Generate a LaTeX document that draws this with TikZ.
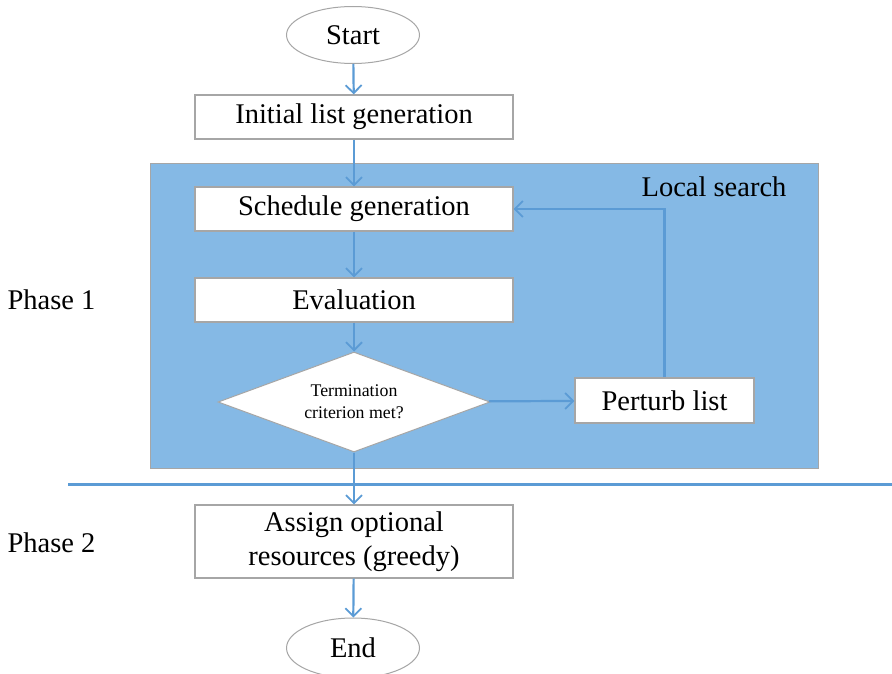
\documentclass[tikz,border=0pt]{standalone}
\usepackage{fontspec}
\setmainfont{Liberation Serif}
\usetikzlibrary{shapes.geometric,arrows.meta}
\definecolor{regionblue}{RGB}{133,185,229}
\definecolor{linkblue}{RGB}{91,155,213}
\definecolor{edgegray}{RGB}{166,166,166}
\tikzset{
  every node/.style={inner sep=0pt},
  box/.style={draw=edgegray, line width=1.2pt, fill=white, minimum width=318pt, minimum height=44pt, font=\fontsize{28.5}{34}\selectfont, align=center},
  term/.style={ellipse, draw=edgegray, line width=1pt, fill=white, minimum width=133pt, minimum height=57pt, font=\fontsize{28.5}{34}\selectfont},
  link/.style={draw=linkblue, line width=2.2pt, -{Straight Barb[length=8pt,width=16pt,line width=1.8pt]}},
  lbl/.style={font=\fontsize{28.5}{34}\selectfont},
}
\begin{document}
\begin{tikzpicture}[x=1pt,y=-1pt]
\useasboundingbox (0,0) rectangle (892,674);
\node[draw=edgegray, fill=regionblue, line width=0.8pt, minimum width=668pt, minimum height=305pt, anchor=north west] (region) at (150,163) {};
\node[lbl] (ls) at (714,187) {Local search};
\node[term] (start) at (353,35) {Start};
\node[box] (init) at (354,117) {Initial list generation};
\node[box] (sched) at (354,209) {Schedule generation};
\node[box] (eval) at (354,300) {Evaluation};
\node[diamond, draw=edgegray, line width=1pt, fill=white, aspect=2.72, minimum width=272pt, minimum height=100pt, font=\fontsize{17.8}{22}\selectfont, align=center] (dec) at (354,402) {Termination\\criterion met?};
\node[box, minimum width=179pt, minimum height=45pt] (pert) at (664.5,400.5) {Perturb list};
\node[box, minimum height=73pt] (assign) at (354,541.5) {Assign optional\\resources (greedy)};
\node[term, minimum height=60pt] (end) at (353,648) {End};
\node[lbl] (p1) at (51.5,300) {Phase 1};
\node[lbl] (p2) at (51.5,543) {Phase 2};
\coordinate (hl) at (68,484);
\coordinate (hr) at (892,484);
\draw[draw=linkblue, line width=3pt] (hl) -- (hr);
\draw[link] (start) -- (init);
\draw[link] (init) -- (sched);
\draw[link] (sched) -- (eval);
\draw[link] (eval) -- (dec);
\draw[link] (dec) -- (pert);
\draw[link] (pert.north) |- (sched.east);
\draw[link] (dec) -- (assign);
\draw[link] (assign) -- (end);
\end{tikzpicture}
\end{document}
